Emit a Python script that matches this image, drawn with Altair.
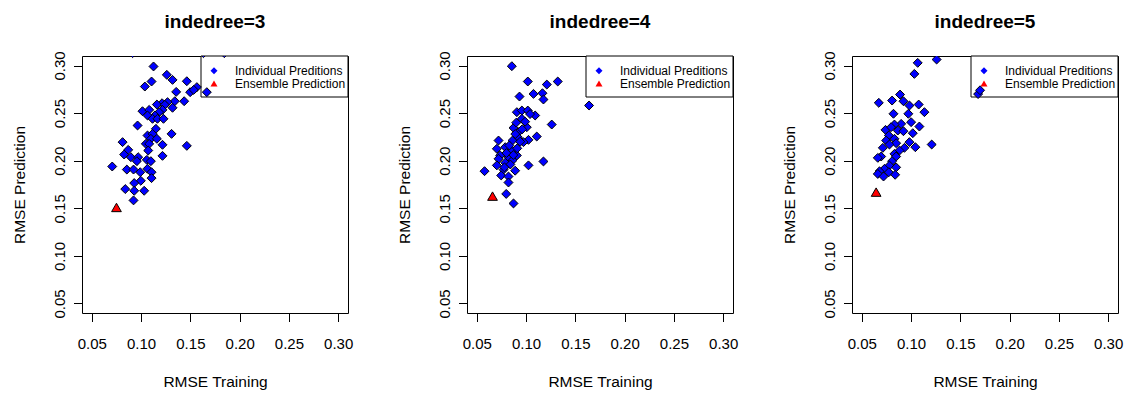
import altair as alt
import pandas as pd

FONT = "Liberation Sans"
KINDS = ["Individual Preditions", "Ensemble Prediction"]
TICKS = [0.05, 0.10, 0.15, 0.20, 0.25, 0.30]

# indedree = 3
x3 = [0.1126, 0.1261, 0.1319, 0.1106, 0.1038, 0.1464, 0.1566, 0.1498, 0.1534, 0.1667,
      0.1356, 0.1437, 0.1342, 0.1268, 0.1213, 0.1160, 0.1241, 0.1319, 0.1217, 0.1183,
      0.1014, 0.1082, 0.1140, 0.1065, 0.1116, 0.1166, 0.1227, 0.0964, 0.1150, 0.1309,
      0.1065, 0.1116, 0.1099, 0.1160, 0.1048, 0.1082, 0.1217, 0.1464, 0.0812, 0.0869,
      0.0828, 0.0896, 0.0970, 0.1072, 0.1058, 0.1099, 0.1217, 0.0957, 0.0707, 0.0855,
      0.0923, 0.0991, 0.1065, 0.1106, 0.1106, 0.0997, 0.0930, 0.0839, 0.0930, 0.1031,
      0.0923, 0.0913, 0.1633, 0.1844]
y3 = [0.2990, 0.2902, 0.2849, 0.2832, 0.2779, 0.2835, 0.2773, 0.2720, 0.2744, 0.2720,
      0.2723, 0.2625, 0.2625, 0.2615, 0.2604, 0.2590, 0.2587, 0.2556, 0.2534, 0.2510,
      0.2520, 0.2534, 0.2475, 0.2475, 0.2440, 0.2440, 0.2440, 0.2370, 0.2335, 0.2282,
      0.2265, 0.2282, 0.2230, 0.2230, 0.2177, 0.2177, 0.2167, 0.2156, 0.2195, 0.2114,
      0.2065, 0.2037, 0.2037, 0.2107, 0.2009, 0.1995, 0.2051, 0.1995, 0.1939, 0.1907,
      0.1907, 0.1879, 0.1915, 0.1879, 0.1817, 0.1789, 0.1765, 0.1702, 0.1684, 0.1684,
      0.1583, 0.3130, 0.3130, 0.3130]
ens3 = (0.0750, 0.1509)

# indedree = 4
x4 = [0.0855, 0.1017, 0.1210, 0.1321, 0.1075, 0.1166, 0.1176, 0.0933, 0.1639, 0.0906,
      0.0957, 0.1017, 0.1092, 0.0957, 0.1260, 0.0872, 0.1007, 0.0923, 0.0916, 0.1108,
      0.1024, 0.0973, 0.0862, 0.0720, 0.0703, 0.0788, 0.0855, 0.0737, 0.0821, 0.0906,
      0.0720, 0.0788, 0.0862, 0.1024, 0.1176, 0.0703, 0.0578, 0.0771, 0.0889, 0.0747,
      0.0821, 0.0821, 0.0798, 0.0872,
      0.0890, 0.0940, 0.0960, 0.0830, 0.0800, 0.0870, 0.0910, 0.0840, 0.0780, 0.0990,
      0.0900, 0.1040]
y4 = [0.2993, 0.2832, 0.2800, 0.2832, 0.2702, 0.2709, 0.2643, 0.2674, 0.2580, 0.2510,
      0.2527, 0.2527, 0.2475, 0.2440, 0.2380, 0.2345, 0.2352, 0.2300, 0.2247, 0.2254,
      0.2219, 0.2195, 0.2212, 0.2212, 0.2125, 0.2142, 0.2107, 0.2055, 0.2037, 0.2055,
      0.2020, 0.1979, 0.2003, 0.1951, 0.1992, 0.1951, 0.1890, 0.1906, 0.1895, 0.1845,
      0.1834, 0.1771, 0.1651, 0.1551,
      0.2280, 0.2200, 0.2330, 0.2160, 0.2080, 0.2060, 0.2130, 0.1960, 0.1930, 0.2410,
      0.2400, 0.2490]
ens4 = (0.0659, 0.1628)

# indedree = 5
x5 = [0.1067, 0.1259, 0.1033, 0.0672, 0.0807, 0.0888, 0.0922, 0.0983, 0.1077, 0.1135,
      0.0821, 0.0972, 0.1000, 0.1084, 0.0899, 0.0831, 0.0740, 0.0797, 0.0865, 0.0922,
      0.1017, 0.0774, 0.0831, 0.0747, 0.0983, 0.0848, 0.0932, 0.1043, 0.1209, 0.0713,
      0.0780, 0.0882, 0.0831, 0.0696, 0.0662, 0.0848, 0.0807, 0.0780, 0.0848, 0.0730,
      0.0679, 0.0662, 0.0774, 0.0720, 0.0838, 0.1680, 0.1700]
y5 = [0.3028, 0.3063, 0.2912, 0.2608, 0.2632, 0.2695, 0.2625, 0.2580, 0.2590, 0.2510,
      0.2493, 0.2493, 0.2405, 0.2359, 0.2387, 0.2380, 0.2324, 0.2352, 0.2317, 0.2310,
      0.2289, 0.2265, 0.2230, 0.2212, 0.2195, 0.2184, 0.2135, 0.2142, 0.2170, 0.2135,
      0.2170, 0.2107, 0.2072, 0.2044, 0.2030, 0.2044, 0.1995, 0.1949, 0.1930, 0.1915,
      0.1889, 0.1861, 0.1879, 0.1834, 0.1852, 0.2700, 0.2740]
ens5 = (0.0645, 0.1670)

W, H = 266, 257
BLUE, RED = "#0000FF", "#FF0000"


def panel(xs, ys, ens, deg):
    pts = pd.DataFrame({"x": list(xs), "y": list(ys)})
    ens_df = pd.DataFrame({"x": [ens[0]], "y": [ens[1]]})
    one = pd.DataFrame({"label": KINDS[:1]})

    xscale = alt.Scale(domain=[0.04, 0.31], nice=False, zero=False)
    yscale = alt.Scale(domain=[0.04, 0.31], nice=False, zero=False)
    xaxis = alt.Axis(values=TICKS, format=".2f", domain=False, grid=False,
                     tickColor="black", tickSize=8.5, tickWidth=1,
                     labelFont=FONT, labelFontSize=15, labelColor="black",
                     labelPadding=27, labelBaseline="alphabetic",
                     labelFlush=False, labelOverlap=False,
                     title="RMSE Training", titleFont=FONT, titleFontSize=15.5,
                     titleFontWeight="normal", titleColor="black",
                     titleBaseline="alphabetic", titlePadding=33,
                     minExtent=40, maxExtent=40)
    yaxis = alt.Axis(values=TICKS, format=".2f", domain=False, grid=False,
                     tickColor="black", tickSize=8.5, tickWidth=1,
                     labelFont=FONT, labelFontSize=15, labelColor="black",
                     labelAngle=270, labelAlign="center", labelBaseline="alphabetic",
                     labelPadding=9, labelFlush=False, labelOverlap=False,
                     title="RMSE Prediction", titleFont=FONT, titleFontSize=15.5,
                     titleFontWeight="normal", titleColor="black",
                     titleAngle=270, titleBaseline="alphabetic", titlePadding=27.5,
                     minExtent=30, maxExtent=30)

    # legend (drawn in the top-right corner, below the points as in the original)
    box = alt.Chart(one).mark_rect(fill="white", stroke="black", strokeWidth=1).encode(
        x=alt.value(W - 147), x2=alt.value(W), y=alt.value(0), y2=alt.value(41))
    sym1 = alt.Chart(one).mark_point(shape="diamond", filled=True, fill=BLUE,
                                     strokeWidth=0, size=49, opacity=1).encode(
        x=alt.value(W - 134), y=alt.value(14.7))
    sym2 = alt.Chart(one).mark_point(shape="triangle-up", filled=True, fill=RED,
                                     strokeWidth=0, size=49, opacity=1).encode(
        x=alt.value(W - 134), y=alt.value(27.5))
    txt1 = alt.Chart(one).mark_text(align="left", baseline="alphabetic", font=FONT,
                                    fontSize=12, color="black").encode(
        x=alt.value(W - 113), y=alt.value(19), text=alt.value(KINDS[0]))
    txt2 = alt.Chart(one).mark_text(align="left", baseline="alphabetic", font=FONT,
                                    fontSize=12, color="black").encode(
        x=alt.value(W - 113), y=alt.value(31.7), text=alt.value(KINDS[1]))

    points = alt.Chart(pts).mark_point(
        shape="diamond", filled=True, fill=BLUE, stroke="black", strokeWidth=1,
        size=80, opacity=1, clip=True
    ).encode(
        x=alt.X("x:Q", scale=xscale, axis=xaxis),
        y=alt.Y("y:Q", scale=yscale, axis=yaxis),
    )
    ensemble = alt.Chart(ens_df).mark_point(
        shape="triangle-up", filled=True, fill=RED, stroke="black", strokeWidth=1,
        size=95, opacity=1, clip=True
    ).encode(
        x=alt.X("x:Q", scale=xscale),
        y=alt.Y("y:Q", scale=yscale),
    )

    return alt.layer(box, sym1, sym2, txt1, txt2, points, ensemble).properties(
        width=W, height=H,
        title=alt.TitleParams(f"indedree={deg}", font=FONT, fontSize=19, fontWeight="bold",
                              color="black", anchor="middle", baseline="alphabetic", offset=4),
    )


chart = alt.hconcat(
    panel(x3, y3, ens3, 3),
    panel(x4, y4, ens4, 4),
    panel(x5, y5, ens5, 5),
    spacing=119, bounds="flush",
).properties(
    padding={"left": 3, "top": 4, "right": 5, "bottom": 5}
).configure_view(stroke="black", strokeWidth=1)

chart.save("out.html", embed_options={"renderer": "svg", "actions": False})
